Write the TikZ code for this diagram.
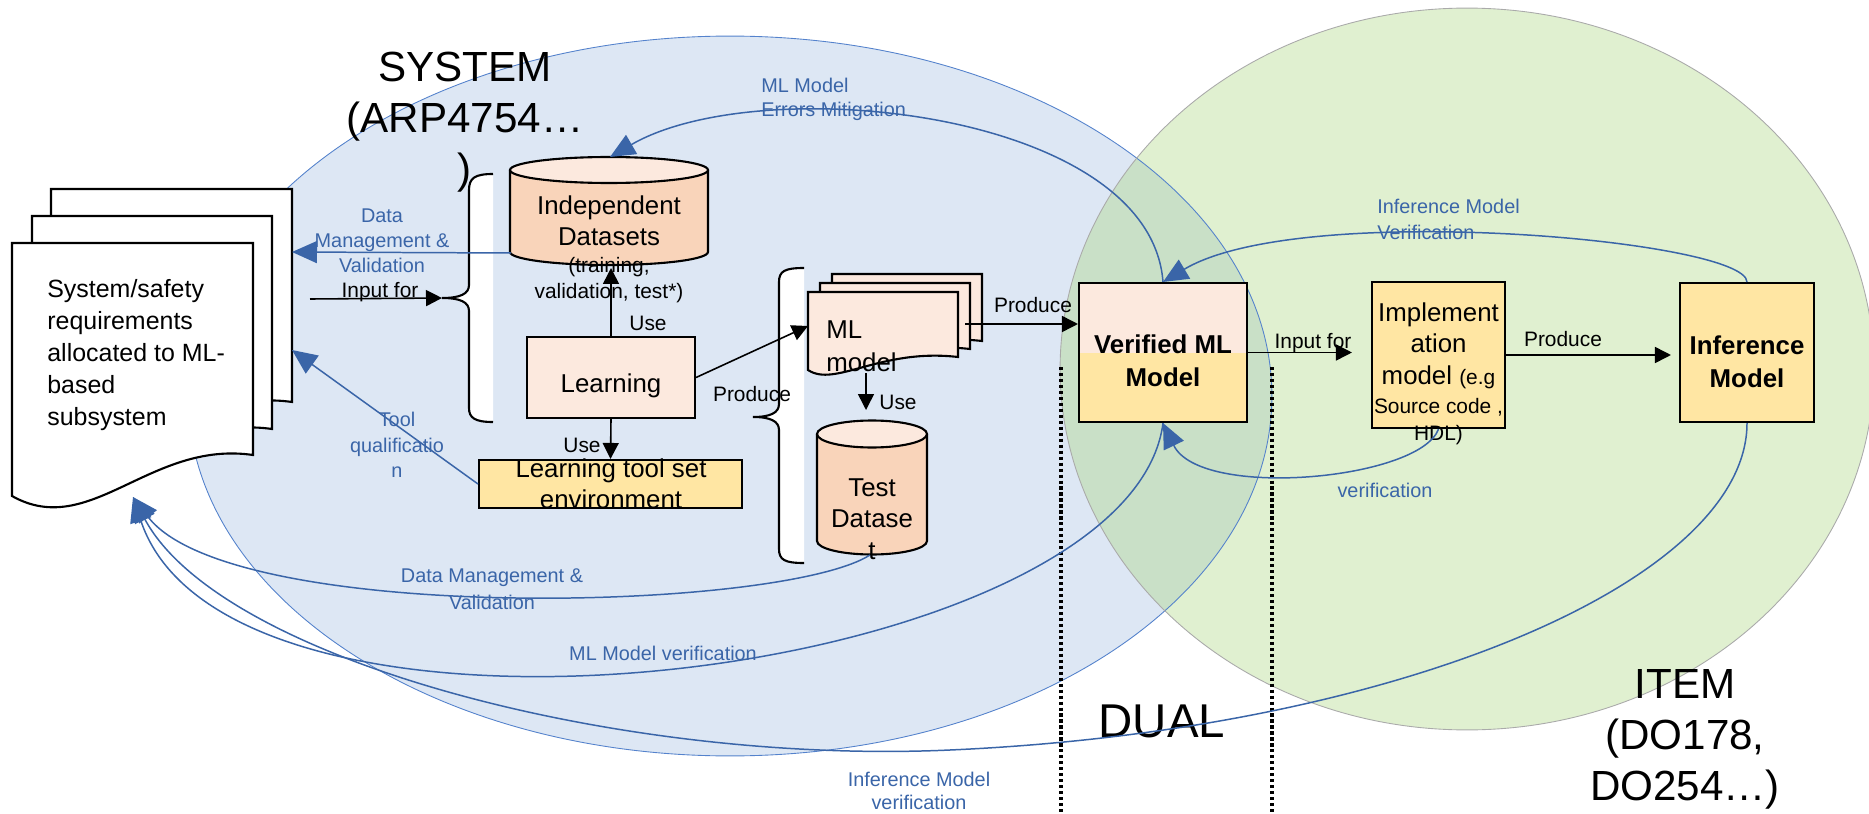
\documentclass[tikz,border=0pt]{standalone}
\usepackage{fontspec}
\setmainfont{Liberation Sans}
\usetikzlibrary{arrows.meta, positioning, calc}
\definecolor{sysfill}{RGB}{221,231,244}
\definecolor{sysline}{RGB}{84,130,204}
\definecolor{itemfill}{RGB}{224,240,208}
\definecolor{itemline}{RGB}{170,170,170}
\definecolor{dualfill}{RGB}{201,224,199}
\definecolor{linkblue}{RGB}{58,101,168}
\definecolor{peach}{RGB}{249,212,186}
\definecolor{lightpeach}{RGB}{252,233,222}
\definecolor{paleyellow}{RGB}{255,230,163}
\tikzset{
  procbox/.style={draw=black, line width=1.2pt, fill=lightpeach, inner sep=0pt},
  toolbox/.style={procbox, fill=paleyellow},
  verbox/.style={procbox, path picture={\fill[paleyellow] (path picture bounding box.west) rectangle (path picture bounding box.south east);}},
  docpage/.style={draw=black, line width=1.2pt, fill=white},
  mlpage/.style={docpage, fill=lightpeach},
  cylbody/.style={draw=black, line width=1.2pt, fill=peach},
  cyltop/.style={draw=black, line width=1.2pt, fill=lightpeach},
  braceline/.style={draw=black, line width=1.2pt},
  blkarrow/.style={draw=black, line width=0.9pt, -{Triangle[length=3.2mm, width=3.2mm]}},
  bluearrow/.style={draw=linkblue, line width=0.85pt, -{Triangle[length=5mm, width=4.4mm]}},
  boxtxt/.style={inner sep=0pt, align=center, font=\fontsize{14.7}{18}\selectfont},
  reqtxt/.style={inner sep=0pt, align=left, font=\fontsize{14.2}{18.1}\selectfont},
  blktxt/.style={inner sep=0pt, font=\fontsize{11.9}{14}\selectfont},
  bluetxt/.style={inner sep=0pt, text=linkblue, font=\fontsize{11.3}{14.5}\selectfont},
  areatxt/.style={inner sep=0pt, align=center, font=\fontsize{24}{29}\selectfont},
  dotline/.style={draw=black, line width=1.8pt, dash pattern=on 1.8pt off 1.6pt}
}
\begin{document}
\begin{tikzpicture}[x=0.02cm, y=-0.02cm]
  \useasboundingbox (0,0) rectangle (1869,814);
  % SYSTEM / ITEM areas
  \fill[sysfill] (730,396) ellipse[x radius=10.84cm, y radius=7.2cm];
  \fill[itemfill] (1467,369) ellipse[x radius=8.14cm, y radius=7.22cm];
  \begin{scope}
    \clip (730,396) ellipse[x radius=10.84cm, y radius=7.2cm];
    \fill[dualfill] (1467,369) ellipse[x radius=8.14cm, y radius=7.22cm];
  \end{scope}
  \draw[sysline, line width=0.5pt] (730,396) ellipse[x radius=10.84cm, y radius=7.2cm];
  \draw[itemline, line width=0.5pt] (1467,369) ellipse[x radius=8.14cm, y radius=7.22cm];
  \draw[dotline] (1061,367) -- (1061,814);
  \draw[dotline] (1272,367) -- (1272,814);

  % requirements document stack
  \draw[docpage] (51,189) -- (292,189) -- (292,402) .. controls (189,387) and (129,487) .. (51,443) -- cycle;
  \draw[docpage] (32,216) -- (272,216) -- (272,429) .. controls (169,414) and (109,514) .. (32,470) -- cycle;
  \draw[docpage] (12,243) -- (253,243) -- (253,455) .. controls (150,440) and (90,540) .. (12,496) -- cycle;
  \node[reqtxt, anchor=west] (req) at (47,355) {System/safety\\requirements\\allocated to ML-\\based\\subsystem};
  \coordinate (reqin) at (292,252);
  \coordinate (reqout) at (310,299);
  \coordinate (reqtool) at (292,350);
  \coordinate (reqbot) at (133,497);

  % braces
  \fill[white] (493,174) .. controls (475,174) and (469,178) .. (469,190) -- (469,285) .. controls (469,294) and (460,298) .. (442,298) .. controls (460,298) and (469,302) .. (469,311) -- (469,408) .. controls (469,418) and (475,422) .. (493,422) -- cycle;
  \draw[braceline] (493,174) .. controls (475,174) and (469,178) .. (469,190) -- (469,285) .. controls (469,294) and (460,298) .. (442,298) .. controls (460,298) and (469,302) .. (469,311) -- (469,408) .. controls (469,418) and (475,422) .. (493,422);
  \coordinate (b1tip) at (442,298);
  \fill[white] (804,268) .. controls (785,268) and (779,271) .. (779,282) -- (779,404) .. controls (779,413) and (770,417) .. (753,417) .. controls (770,417) and (779,421) .. (779,430) -- (779,549) .. controls (779,560) and (785,563) .. (804,563) -- cycle;
  \draw[braceline] (804,268) .. controls (785,268) and (779,271) .. (779,282) -- (779,404) .. controls (779,413) and (770,417) .. (753,417) .. controls (770,417) and (779,421) .. (779,430) -- (779,549) .. controls (779,560) and (785,563) .. (804,563);

  % datasets
  \draw[cylbody] (510,170) -- (510,252) arc[start angle=180, end angle=360, x radius=1.98cm, y radius=0.26cm] -- (708,170);
  \draw[cyltop] (609,170) ellipse[x radius=1.98cm, y radius=0.26cm];
  \node[boxtxt] (indeptxt) at (609,249) {Independent\\Datasets\\[-2.7pt]{\fontsize{11.9}{14}\selectfont (training,}\\[-3.3pt]{\fontsize{11.9}{14}\selectfont validation, test*)}};
  \coordinate (indeptop) at (610,157);
  \coordinate (indepleft) at (511,253);
  \coordinate (indepbot) at (611,268);
  \draw[cylbody] (817,434) -- (817,541) arc[start angle=180, end angle=360, x radius=1.1cm, y radius=0.27cm] -- (927,434);
  \draw[cyltop] (872,434) ellipse[x radius=1.1cm, y radius=0.27cm];
  \node[boxtxt] (testtxt) at (872,519) {Test\\Datase\\t};
  \coordinate (testtop) at (866,410);
  \coordinate (testbot) at (870,555);

  % learning
  \node[procbox, minimum width=3.36cm, minimum height=1.62cm] (learn) at (611,377.5) {};
  \node[boxtxt, anchor=base] (learntxt) at (611,392) {Learning};
  \node[toolbox, minimum width=5.26cm, minimum height=0.96cm] (lts) at (610.5,484) {};
  \node[boxtxt, font=\fontsize{14.7}{17.5}\selectfont] (ltstxt) at (611,484) {Learning tool set\\environment};

  % ML model stack
  \draw[mlpage] (832,274) -- (982,274) -- (982,341) .. controls (904,332) and (859,372) .. (832,354) -- cycle;
  \draw[mlpage] (820,283) -- (970,283) -- (970,349) .. controls (892,340) and (847,380) .. (820,362) -- cycle;
  \draw[mlpage] (808,292) -- (958,292) -- (958,357) .. controls (880,348) and (835,388) .. (808,370) -- cycle;
  \node[reqtxt, font=\fontsize{14.7}{18.7}\selectfont, anchor=west] (mltxt) at (826,346) {ML\\model};
  \coordinate (mlin) at (808,326);
  \coordinate (mlout) at (965,324);
  \coordinate (mlbot) at (866,373);

  % item side
  \node[verbox, minimum width=3.36cm, minimum height=2.78cm] (ver) at (1163,352.5) {};
  \node[boxtxt, font=\bfseries\fontsize{14.7}{18.7}\selectfont] (vertxt) at (1163,361) {Verified ML\\Model};
  \node[toolbox, minimum width=2.66cm, minimum height=2.92cm] (impl) at (1438.5,355) {};
  \node[boxtxt] (impltxt) at (1438.5,373.5) {Implement\\ation\\model {\fontsize{11.9}{14}\selectfont (e.g}\\[-1.5pt]{\fontsize{11.9}{14}\selectfont Source code ,}\\[-2.8pt]{\fontsize{11.9}{14}\selectfont HDL)}};
  \node[toolbox, minimum width=2.68cm, minimum height=2.78cm] (infer) at (1747,352.5) {};
  \node[boxtxt, font=\bfseries\fontsize{14.7}{18.7}\selectfont] (infertxt) at (1747,362) {Inference\\Model};
  \coordinate (infmid) at (950,750);

  % area titles
  \node[areatxt] (systitle) at (465,122.5) {SYSTEM\\(ARP4754…\\)};
  \node[areatxt] (itemtitle) at (1685,739.5) {ITEM\\(DO178,\\DO254…)};
  \node[areatxt, font=\fontsize{27}{30}\selectfont, anchor=base] (dualtitle) at (1162,737) {DUAL};

  % flow
  \draw[blkarrow] (reqout) -- (b1tip);
  \node[blktxt, anchor=base] (in1lbl) at (380,297) {Input for};
  \draw[blkarrow] (learn.north) -- (indepbot);
  \node[blktxt, anchor=base] (use1lbl) at (648,330) {Use};
  \draw[blkarrow] (learn.south) -- (lts.north);
  \node[blktxt, anchor=base] (use2lbl) at (582,452) {Use};
  \draw[blkarrow] (learn.east) -- (mlin);
  \node[blktxt, anchor=base] (prod1lbl) at (752,401) {Produce};
  \draw[blkarrow] (mlbot) -- (testtop);
  \node[blktxt, anchor=base] (use3lbl) at (898,409) {Use};
  \draw[blkarrow] (mlout) -- (mlout -| ver.west);
  \node[blktxt, anchor=base] (prod2lbl) at (1033,312) {Produce};
  \draw[blkarrow, shorten >=0.38cm] (ver.east) -- (ver.east -| impl.west);
  \node[blktxt, anchor=base] (in2lbl) at (1313,348) {Input for};
  \draw[blkarrow, shorten >=0.16cm] (impl.east) -- (impl.east -| infer.west);
  \node[blktxt, anchor=base] (prod3lbl) at (1563,346) {Produce};

  % verification / feedback links
  \draw[bluearrow] (indepleft) -- (reqin);
  \node[bluetxt, align=center, font=\fontsize{11.3}{14.2}\selectfont] (dmv1lbl) at (382,240.5) {Data\\Management \&\\Validation};
  \draw[bluearrow] (ver.north) .. controls (1150,110) and (760,70) .. (indeptop);
  \node[bluetxt, align=left, anchor=west, font=\fontsize{11.3}{13.6}\selectfont] (errlbl) at (761,99.7) {ML Model\\Errors Mitigation};
  \draw[bluearrow] (infer.north) .. controls (1746,240) and (1300,200) .. (ver.north);
  \node[bluetxt, align=left, anchor=west, font=\fontsize{11.3}{14.7}\selectfont] (infverlbl) at (1377,219) {Inference Model\\Verification};
  \draw[bluearrow] (impl.south) .. controls (1420,480) and (1200,500) .. (ver.south);
  \node[bluetxt, anchor=base] (verlbl) at (1385,497) {verification};
  \draw[bluearrow] (lts.west) -- (reqtool);
  \node[bluetxt, align=center, font=\fontsize{11.3}{14.5}\selectfont] (toollbl) at (397,445) {Tool\\qualificatio\\n};
  \draw[bluearrow] (testbot) .. controls (780,612) and (230,625) .. (reqbot);
  \node[bluetxt, align=center, font=\fontsize{11.3}{15.3}\selectfont] (dmv2lbl) at (492,589) {Data Management \&\\Validation};
  \draw[bluearrow] (ver.south) .. controls (1130,680) and (230,790) .. (reqbot);
  \node[bluetxt, anchor=base] (mlverlbl) at (663,660) {ML Model verification};
  \draw[bluearrow] (infer.south) .. controls (1747,580) and (1400,730) .. (infmid) .. controls (620,765) and (220,660) .. (reqbot);
  \node[bluetxt, align=center, font=\fontsize{11.3}{13.2}\selectfont] (infver2lbl) at (919,791) {Inference Model\\verification};
\end{tikzpicture}
\end{document}
